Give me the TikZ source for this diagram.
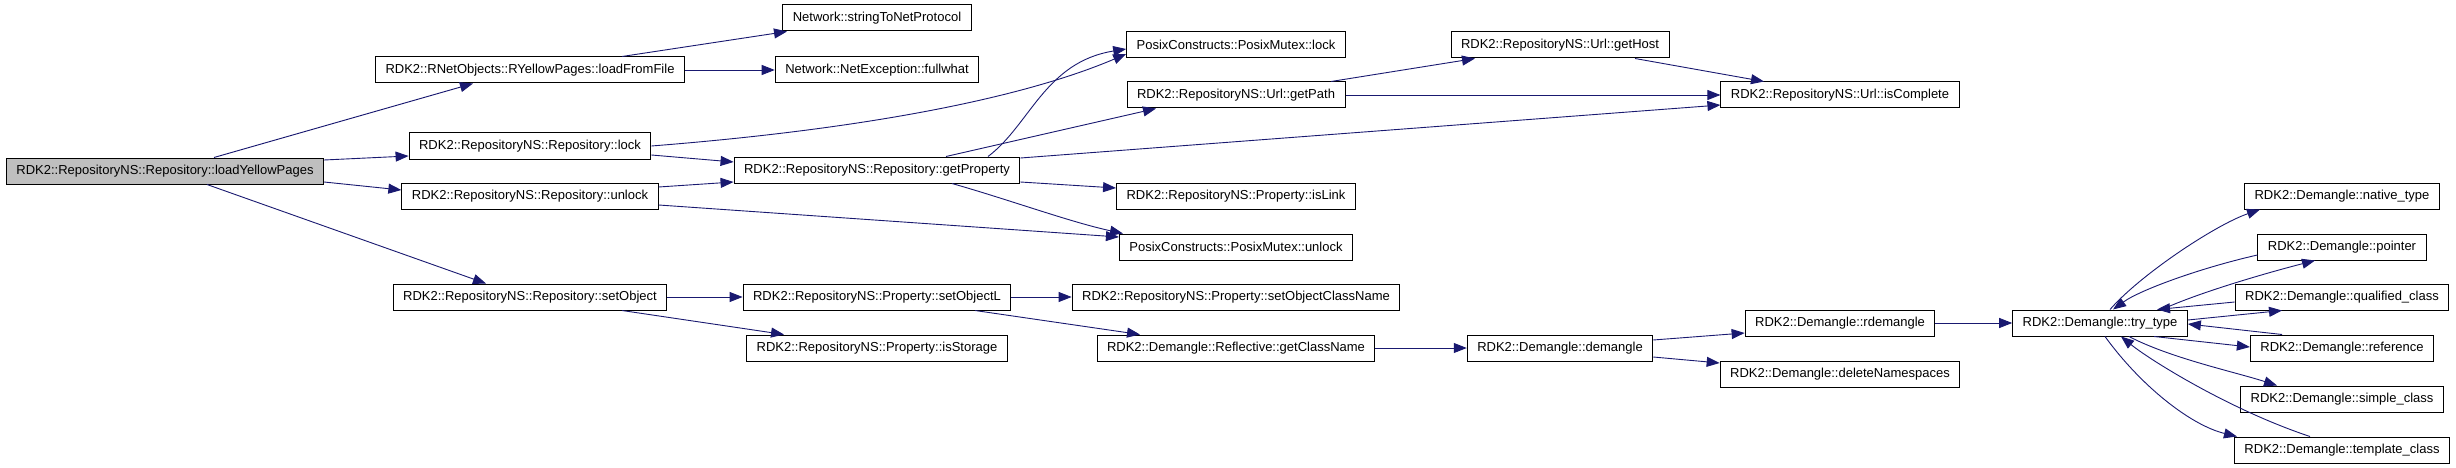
\documentclass[tikz,border=0pt]{standalone}
\usepackage{fontspec}
\setmainfont{Liberation Sans}
\usepackage{xcolor}
\definecolor{callblue}{HTML}{191970}
\usetikzlibrary{arrows.meta}

\begin{document}
\begin{tikzpicture}[
		x=1pt,
		y=-1pt,
		font=\fontsize{13}{15}\selectfont,
		fn/.style={draw=black, fill=white, line width=1pt, minimum height=26pt, inner xsep=10pt, inner ysep=0pt},
		root/.style={fn, fill=black!25},
		call/.style={-{Triangle[length=13pt,width=10pt]}, draw=callblue, line width=0.9pt}
		]
		\useasboundingbox (0,0) rectangle (2456,468);
		
		% Caller
		\node[root] (lyp) at (165,171) {RDK2::RepositoryNS::Repository::loadYellowPages};
		
		% Second column
		\node[fn] (lff) at (530,70) {RDK2::RNetObjects::RYellowPages::loadFromFile};
		\node[fn] (rlock) at (530,146) {RDK2::RepositoryNS::Repository::lock};
		\node[fn] (runlock) at (530,196) {RDK2::RepositoryNS::Repository::unlock};
		\node[fn] (setobj) at (530,297) {RDK2::RepositoryNS::Repository::setObject};
		
		% Third column
		\node[fn] (stnp) at (877,18) {Network::stringToNetProtocol};
		\node[fn] (fw) at (877,70) {Network::NetException::fullwhat};
		\node[fn] (gprop) at (877,170) {RDK2::RepositoryNS::Repository::getProperty};
		\node[fn] (setobjl) at (877,297) {RDK2::RepositoryNS::Property::setObjectL};
		\node[fn] (isstor) at (877,348) {RDK2::RepositoryNS::Property::isStorage};
		
		% Fourth column
		\node[fn] (pmlock) at (1236,45) {PosixConstructs::PosixMutex::lock};
		\node[fn] (gpath) at (1236,95) {RDK2::RepositoryNS::Url::getPath};
		\node[fn] (islink) at (1236,196) {RDK2::RepositoryNS::Property::isLink};
		\node[fn] (pmunlock) at (1236,247) {PosixConstructs::PosixMutex::unlock};
		\node[fn] (setocn) at (1236,297) {RDK2::RepositoryNS::Property::setObjectClassName};
		\node[fn] (gcn) at (1236,348) {RDK2::Demangle::Reflective::getClassName};
		
		% Fifth and sixth columns
		\node[fn] (ghost) at (1560,45) {RDK2::RepositoryNS::Url::getHost};
		\node[fn] (dem) at (1560,348) {RDK2::Demangle::demangle};
		\node[fn] (icomp) at (1840,95) {RDK2::RepositoryNS::Url::isComplete};
		\node[fn] (rdem) at (1840,323) {RDK2::Demangle::rdemangle};
		\node[fn] (delns) at (1840,374) {RDK2::Demangle::deleteNamespaces};
		
		% Demangle types
		\node[fn] (try) at (2100,323) {RDK2::Demangle::try\_type};
		\node[fn] (native) at (2342,196) {RDK2::Demangle::native\_type};
		\node[fn] (pointer) at (2342,247) {RDK2::Demangle::pointer};
		\node[fn] (qual) at (2342,297) {RDK2::Demangle::qualified\_class};
		\node[fn] (ref) at (2342,348) {RDK2::Demangle::reference};
		\node[fn] (simple) at (2342,399) {RDK2::Demangle::simple\_class};
		\node[fn] (templ) at (2342,450) {RDK2::Demangle::template\_class};
		
		% Calls from loadYellowPages
		\draw[call] ([xshift=49pt]lyp.north) -- ([xshift=-57pt]lff.south);
		\draw[call] ([yshift=11pt]lyp.east) -- ([yshift=-10pt]rlock.west);
		\draw[call] ([yshift=-11pt]lyp.east) -- ([yshift=6pt]runlock.west);
		\draw[call] ([xshift=42pt]lyp.south) -- ([xshift=-44pt]setobj.north);
		
		\draw[call] ([xshift=92pt]lff.north) -- ([xshift=-90pt]stnp.south);
		\draw[call] (lff.east) -- (fw.west);
		
		% Locking
		\draw[call] (rlock.east) .. controls (880,128) and (1030,95) .. ([yshift=-9pt]pmlock.west);
		\draw[call] ([yshift=-9pt]rlock.east) -- ([yshift=8pt]gprop.west);
		\draw[call] ([yshift=9pt]runlock.east) -- ([yshift=-12pt]gprop.west);
		\draw[call] ([yshift=-9pt]runlock.east) -- ([yshift=10pt]pmunlock.west);
		
		% Calls from getProperty
		\draw[call] ([xshift=111pt]gprop.north) .. controls (1030,125) and (1045,62) .. ([yshift=-4pt]pmlock.west);
		\draw[call] ([xshift=69pt]gprop.north) -- ([xshift=-80pt]gpath.south);
		\draw[call] ([yshift=12pt]gprop.east) -- ([yshift=-10pt]icomp.west);
		\draw[call] ([yshift=-12pt]gprop.east) -- ([yshift=8pt]islink.west);
		\draw[call] ([xshift=75pt]gprop.south) .. controls (1010,200) and (1070,222) .. ([xshift=4pt]pmunlock.north west);
		
		\draw[call] (gpath.east) -- (icomp.west);
		\draw[call] ([xshift=95pt]gpath.north) -- ([xshift=-85pt]ghost.south);
		\draw[call] ([xshift=75pt]ghost.south) -- ([xshift=-76pt]icomp.north);
		
		% Calls from setObject
		\draw[call] (setobj.east) -- (setobjl.west);
		\draw[call] ([xshift=92pt]setobj.south) -- ([xshift=-93pt]isstor.north);
		\draw[call] (setobjl.east) -- (setocn.west);
		\draw[call] ([xshift=98pt]setobjl.south) -- ([xshift=-96pt]gcn.north);
		\draw[call] (gcn.east) -- (dem.west);
		\draw[call] ([yshift=8pt]dem.east) -- ([yshift=-10pt]rdem.west);
		\draw[call] ([yshift=-9pt]dem.east) -- ([yshift=11pt]delns.west);
		\draw[call] (rdem.east) -- (try.west);
		
		% try_type and back
		\draw[call] ([xshift=10pt]try.north) .. controls (2140,275) and (2215,225) .. ([xshift=-82pt]native.south);
		\draw[call] ([yshift=-8pt]pointer.west) .. controls (2200,268) and (2140,290) .. ([xshift=13pt]try.north);
		\draw[call] ([xshift=62pt]try.north) .. controls (2200,292) and (2270,272) .. ([xshift=-27pt]pointer.south);
		\draw[call] ([yshift=-5pt]qual.west) -- ([xshift=57pt]try.north);
		\draw[call] ([yshift=3pt]try.east) -- ([xshift=-60pt]qual.south);
		\draw[call] ([xshift=-60pt]ref.north) -- ([yshift=-1pt]try.east);
		\draw[call] ([xshift=54pt]try.south) -- ([yshift=1pt]ref.west);
		\draw[call] ([xshift=29pt]try.south) .. controls (2170,358) and (2235,372) .. ([xshift=-65pt]simple.north);
		\draw[call] ([xshift=-32pt]templ.north) .. controls (2230,410) and (2150,360) .. ([xshift=21pt]try.south);
		\draw[call] ([xshift=5pt]try.south) .. controls (2140,385) and (2190,425) .. ([xshift=3pt]templ.north west);
	\end{tikzpicture}
\end{document}
